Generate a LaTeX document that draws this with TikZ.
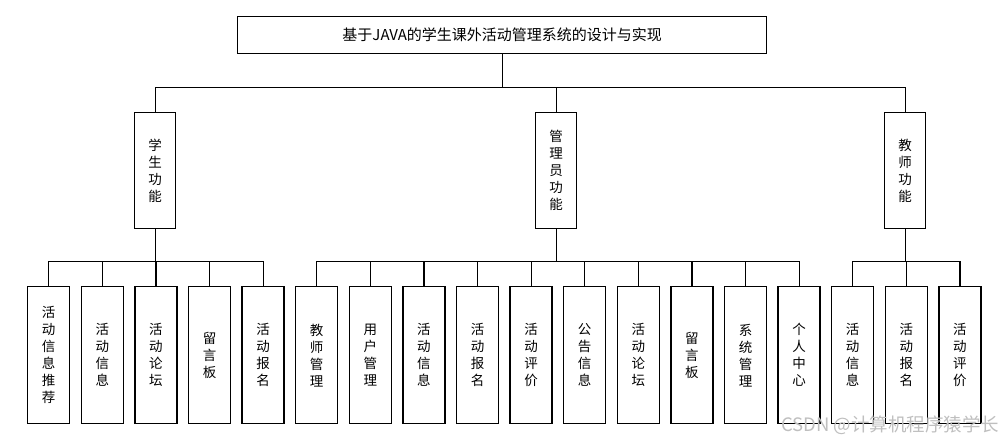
\documentclass[tikz,border=0pt]{standalone}
\usepackage{fontspec}
\setmainfont{Liberation Serif}
\newfontfamily\cjk{Noto Sans CJK SC}
\begin{document}
\begin{tikzpicture}[x=1pt,y=-1pt,
  every node/.style={font=\cjk\fontsize{13.5}{17}\selectfont},
  top box/.style={draw,line width=1.4pt,minimum width=529pt,minimum height=37pt,anchor=north west},
  role box/.style={draw,line width=1.4pt,minimum width=41pt,minimum height=116pt,anchor=north west,align=center},
  leaf box/.style={draw,line width=1.4pt,minimum width=42pt,minimum height=137pt,anchor=north west,align=center},
  link/.style={line width=1.2pt}]
  \useasboundingbox (0,0) rectangle (1005,442);

  \node[top box,font=\cjk\fontsize{15}{17}\selectfont] (root) at (237,16) {基于JAVA的学生课外活动管理系统的设计与实现};
  \node[role box] (stu) at (134,112) {学\\生\\功\\能};
  \node[role box] (adm) at (535,112) {管\\理\\员\\功\\能};
  \node[role box] (tea) at (884,112) {教\\师\\功\\能};

  % leaves
  \foreach \t [count=\i from 0] in {活\\动\\信\\息\\推\\荐, 活\\动\\信\\息, 活\\动\\论\\坛, 留\\言\\板, 活\\动\\报\\名,
      教\\师\\管\\理, 用\\户\\管\\理, 活\\动\\信\\息, 活\\动\\报\\名, 活\\动\\评\\价, 公\\告\\信\\息,
      活\\动\\论\\坛, 留\\言\\板, 系\\统\\管\\理, 个\\人\\中\\心,
      活\\动\\信\\息, 活\\动\\报\\名, 活\\动\\评\\价}
    \node[leaf box] (b\i) at (27+53.6*\i,286) {\t};

  % root to roles
  \draw[link] (root.south) -- ++(0,33) coordinate (rb);
  \draw[link] (stu.north) |- (rb) -| (tea.north);
  \draw[link] (adm.north) -- (adm.north |- rb);

  % roles to leaves
  \draw[link] (stu.south) -- ++(0,32) coordinate (sb);
  \draw[link] (b0.north) |- (sb) -| (b4.north);
  \foreach \i in {1,2,3} \draw[link] (b\i.north) -- (b\i.north |- sb);
  \draw[link] (adm.south) -- ++(0,32) coordinate (ab);
  \draw[link] (b5.north) |- (ab) -| (b14.north);
  \foreach \i in {6,...,13} \draw[link] (b\i.north) -- (b\i.north |- ab);
  \draw[link] (tea.south) -- ++(0,32) coordinate (tb);
  \draw[link] (b15.north) |- (tb) -| (b17.north);
  \draw[link] (b16.north) -- (b16.north |- tb);

  \node[text=black!25,anchor=south east,font=\cjk\fontsize{18.5}{19}\selectfont] (mark) at (1003,438) {CSDN @计算机程序猿学长};
\end{tikzpicture}
\end{document}
